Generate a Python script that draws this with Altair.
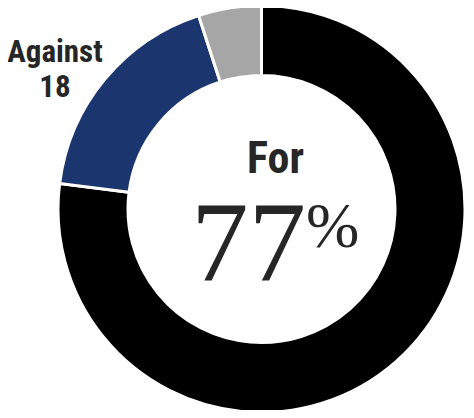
import altair as alt
import pandas as pd

# Data
categories = ["For", "Against", "Other"]
values = [77, 18, 5]
colors = ["#000000", "#1B366E", "#A6A6A6"]
for_pct_label = "77"
pct_sign = "%"

df = pd.DataFrame({"category": categories, "value": values, "order": list(range(len(categories)))})

CX, CY = 253.5, 201
TEXT = "#262626"
SANS = "Roboto Condensed, Liberation Sans Narrow, Arial Narrow, Liberation Sans, sans-serif"
SERIF = "Liberation Serif, Times New Roman, serif"

donut = alt.Chart(df).mark_arc(
    outerRadius=203.5, innerRadius=133.5, stroke="white", strokeWidth=3,
    x=CX, y=CY
).encode(
    theta=alt.Theta("value:Q", stack=True),
    order=alt.Order("order:Q"),
    color=alt.Color("category:N", scale=alt.Scale(domain=categories, range=colors), legend=None),
)

against_df = pd.DataFrame({"t": [categories[1], str(values[1])], "ypos": [54, 89]})
against = alt.Chart(against_df).mark_text(
    font=SANS, fontWeight="bold", fontSize=31, color=TEXT, align="center", baseline="alphabetic"
).encode(x=alt.value(47), y=alt.Y("ypos:Q", scale=None), text="t:N")

for_df = pd.DataFrame({"t": [categories[0]]})
for_text = alt.Chart(for_df).mark_text(
    font=SANS, fontWeight="bold", fontSize=44, color=TEXT, align="center", baseline="alphabetic"
).encode(x=alt.value(267.5), y=alt.value(165), text="t:N")

pct_df = pd.DataFrame({"t": [for_pct_label]})
pct_text = alt.Chart(pct_df).mark_text(
    font=SERIF, fontSize=115, color=TEXT, align="right", baseline="alphabetic"
).encode(x=alt.value(298), y=alt.value(272), text="t:N")

sign_df = pd.DataFrame({"t": [pct_sign]})
sign_text = alt.Chart(sign_df).mark_text(
    font=SERIF, fontSize=64, color=TEXT, align="left", baseline="alphabetic"
).encode(x=alt.value(298), y=alt.value(239), text="t:N")

chart = alt.layer(donut, against, for_text, pct_text, sign_text).properties(
    width=458, height=402, padding=0, autosize=alt.AutoSizeParams(type="none")
).configure_view(stroke=None)

chart.save("out.html", embed_options={"renderer": "svg", "actions": False})
